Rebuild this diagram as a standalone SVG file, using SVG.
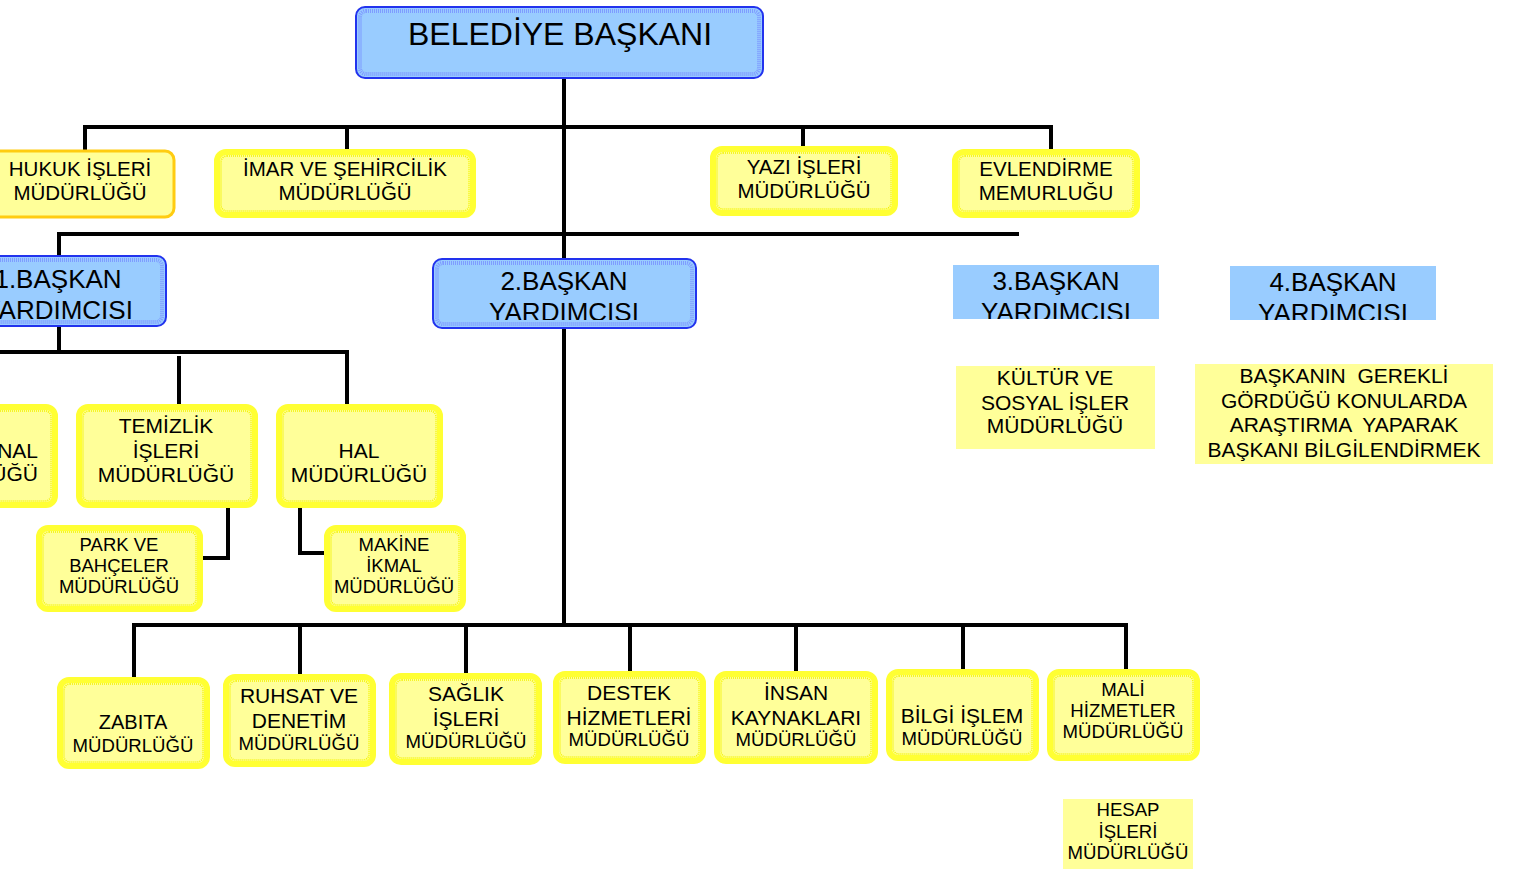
<svg xmlns="http://www.w3.org/2000/svg" width="1518" height="869" viewBox="0 0 1518 869">
<style>
.yb{fill:#ffff99;stroke:#ffff33;stroke-width:6}
.yi{fill:none;stroke:#f2f200;stroke-width:1.5;stroke-dasharray:1 1}
.ho{fill:#ffff99;stroke:#ffcc11;stroke-width:3}
.bb{fill:#99ccff;stroke:#2233ee;stroke-width:2}
.bi{fill:none;stroke:#7f9cff;stroke-width:4;stroke-dasharray:1 1}
.pb{fill:#99ccff}
.py{fill:#ffff99}
.t{font-family:"Liberation Sans",Arial,sans-serif;fill:#000;text-anchor:middle;white-space:pre}
.ln{fill:none;stroke:#000;stroke-width:4}
</style>
<defs>
<clipPath id="c1"><rect x="-60" y="258" width="224" height="62"/></clipPath>
<clipPath id="c2"><rect x="435" y="261" width="259" height="59"/></clipPath>
<clipPath id="c3"><rect x="953" y="265" width="206" height="54"/></clipPath>
<clipPath id="c4"><rect x="1230" y="266" width="206" height="54"/></clipPath>
</defs>
<rect width="1518" height="869" fill="#fff"/>
<g id="connectors">
<path class="ln" d="M564,78 V626"/>
<path class="ln" d="M85,150 V127 H1051 V151"/>
<path class="ln" d="M347,127 V150"/>
<path class="ln" d="M803,127 V148"/>
<path class="ln" d="M59,256 V234 H1019"/>
<path class="ln" d="M59,326 V352"/>
<path class="ln" d="M0,352 H347 V405"/>
<path class="ln" d="M179,356 V405"/>
<path class="ln" d="M228,507 V558 H202"/>
<path class="ln" d="M300,507 V553 H325"/>
<path class="ln" d="M134,678 V625 H1126 V670"/>
<path class="ln" d="M300,625 V675"/>
<path class="ln" d="M466,625 V674"/>
<path class="ln" d="M630,625 V672"/>
<path class="ln" d="M796,625 V672"/>
<path class="ln" d="M963,625 V670"/>
</g>
<g id="baskan">
<rect class="bb" x="356" y="7" width="407" height="71" rx="9"/>
<rect class="bi" x="360" y="11" width="399" height="63" rx="6"/>
<text class="t" x="560" y="45" font-size="32">BELEDİYE BAŞKANI</text>
</g>
<g id="hukuk">
<rect class="ho" x="-14" y="151" width="188" height="66" rx="9"/>
<text class="t" x="80" y="176" font-size="20.5">HUKUK İŞLERİ</text>
<text class="t" x="80" y="200" font-size="20.5">MÜDÜRLÜĞÜ</text>
</g>
<g id="imar">
<rect class="yb" x="217" y="152" width="256" height="63" rx="9"/>
<rect class="yi" x="221" y="156" width="248" height="55" rx="6"/>
<text class="t" x="345" y="176" font-size="20.5">İMAR VE ŞEHİRCİLİK</text>
<text class="t" x="345" y="200" font-size="20.5">MÜDÜRLÜĞÜ</text>
</g>
<g id="yazi">
<rect class="yb" x="713" y="149" width="182" height="64" rx="9"/>
<rect class="yi" x="717" y="153" width="174" height="56" rx="6"/>
<text class="t" x="804" y="174" font-size="20.5">YAZI İŞLERİ</text>
<text class="t" x="804" y="198" font-size="20.5">MÜDÜRLÜĞÜ</text>
</g>
<g id="evlendirme">
<rect class="yb" x="955" y="152" width="182" height="63" rx="9"/>
<rect class="yi" x="959" y="156" width="174" height="55" rx="6"/>
<text class="t" x="1046" y="176" font-size="20.5">EVLENDİRME</text>
<text class="t" x="1046" y="200" font-size="20.5">MEMURLUĞU</text>
</g>
<g id="yardimci1">
<rect class="bb" x="-60" y="256" width="226" height="70" rx="9"/>
<rect class="bi" x="-56" y="260" width="218" height="62" rx="6"/>
<g clip-path="url(#c1)">
<text class="t" x="58" y="288" font-size="26">1.BAŞKAN</text>
<text class="t" x="58" y="319" font-size="26">YARDIMCISI</text>
</g>
</g>
<g id="yardimci2">
<rect class="bb" x="433" y="259" width="263" height="69" rx="9"/>
<rect class="bi" x="437" y="263" width="255" height="61" rx="6"/>
<g clip-path="url(#c2)">
<text class="t" x="564" y="290" font-size="26">2.BAŞKAN</text>
<text class="t" x="564" y="321" font-size="26">YARDIMCISI</text>
</g>
</g>
<g id="yardimci3">
<rect class="pb" x="953" y="265" width="206" height="54"/>
<g clip-path="url(#c3)">
<text class="t" x="1056" y="290" font-size="26">3.BAŞKAN</text>
<text class="t" x="1056" y="321" font-size="26">YARDIMCISI</text>
</g>
</g>
<g id="yardimci4">
<rect class="pb" x="1230" y="266" width="206" height="54"/>
<g clip-path="url(#c4)">
<text class="t" x="1333" y="291" font-size="26">4.BAŞKAN</text>
<text class="t" x="1333" y="322" font-size="26">YARDIMCISI</text>
</g>
</g>
<g id="kultur">
<rect class="py" x="956" y="366" width="199" height="83"/>
<text class="t" x="1055" y="385" font-size="21">KÜLTÜR VE</text>
<text class="t" x="1055" y="410" font-size="21">SOSYAL İŞLER</text>
<text class="t" x="1055" y="433" font-size="21">MÜDÜRLÜĞÜ</text>
</g>
<g id="arastirma">
<rect class="py" x="1195" y="364" width="298" height="100"/>
<text class="t" x="1344" y="383" font-size="21">BAŞKANIN  GEREKLİ</text>
<text class="t" x="1344" y="408" font-size="21">GÖRDÜĞÜ KONULARDA</text>
<text class="t" x="1344" y="432" font-size="21">ARAŞTIRMA  YAPARAK</text>
<text class="t" x="1344" y="457" font-size="21">BAŞKANI BİLGİLENDİRMEK</text>
</g>
<g id="nal">
<rect class="yb" x="-60" y="407" width="115" height="98" rx="9"/>
<rect class="yi" x="-56" y="411" width="107" height="90" rx="6"/>
<text class="t" x="38" y="458" font-size="21" text-anchor="end" style="text-anchor:end">NAL</text>
<text class="t" x="38" y="481" font-size="21" style="text-anchor:end">MÜDÜRLÜĞÜ</text>
</g>
<g id="temizlik">
<rect class="yb" x="79" y="407" width="176" height="98" rx="9"/>
<rect class="yi" x="83" y="411" width="168" height="90" rx="6"/>
<text class="t" x="166" y="433" font-size="21">TEMİZLİK</text>
<text class="t" x="166" y="458" font-size="21">İŞLERİ</text>
<text class="t" x="166" y="482" font-size="21">MÜDÜRLÜĞÜ</text>
</g>
<g id="hal">
<rect class="yb" x="279" y="407" width="161" height="98" rx="9"/>
<rect class="yi" x="283" y="411" width="153" height="90" rx="6"/>
<text class="t" x="359" y="458" font-size="21">HAL</text>
<text class="t" x="359" y="482" font-size="21">MÜDÜRLÜĞÜ</text>
</g>
<g id="park">
<rect class="yb" x="39" y="528" width="161" height="81" rx="9"/>
<rect class="yi" x="43" y="532" width="153" height="73" rx="6"/>
<text class="t" x="119" y="551" font-size="18.5">PARK VE</text>
<text class="t" x="119" y="572" font-size="18.5">BAHÇELER</text>
<text class="t" x="119" y="593" font-size="18.5">MÜDÜRLÜĞÜ</text>
</g>
<g id="makine">
<rect class="yb" x="327" y="528" width="136" height="81" rx="9"/>
<rect class="yi" x="331" y="532" width="128" height="73" rx="6"/>
<text class="t" x="394" y="551" font-size="18.5">MAKİNE</text>
<text class="t" x="394" y="572" font-size="18.5">İKMAL</text>
<text class="t" x="394" y="593" font-size="18.5">MÜDÜRLÜĞÜ</text>
</g>
<g id="zabita">
<rect class="yb" x="60" y="680" width="147" height="86" rx="9"/>
<rect class="yi" x="64" y="684" width="139" height="78" rx="6"/>
<text class="t" x="133" y="729" font-size="20">ZABITA</text>
<text class="t" x="133" y="752" font-size="18.6">MÜDÜRLÜĞÜ</text>
</g>
<g id="ruhsat">
<rect class="yb" x="226" y="677" width="147" height="87" rx="9"/>
<rect class="yi" x="230" y="681" width="139" height="79" rx="6"/>
<text class="t" x="299" y="703" font-size="21">RUHSAT VE</text>
<text class="t" x="299" y="728" font-size="21">DENETİM</text>
<text class="t" x="299" y="750" font-size="18.6">MÜDÜRLÜĞÜ</text>
</g>
<g id="saglik">
<rect class="yb" x="392" y="676" width="147" height="86" rx="9"/>
<rect class="yi" x="396" y="680" width="139" height="78" rx="6"/>
<text class="t" x="466" y="701" font-size="21">SAĞLIK</text>
<text class="t" x="466" y="726" font-size="21">İŞLERİ</text>
<text class="t" x="466" y="748" font-size="18.6">MÜDÜRLÜĞÜ</text>
</g>
<g id="destek">
<rect class="yb" x="556" y="674" width="147" height="87" rx="9"/>
<rect class="yi" x="560" y="678" width="139" height="79" rx="6"/>
<text class="t" x="629" y="700" font-size="21">DESTEK</text>
<text class="t" x="629" y="725" font-size="21">HİZMETLERİ</text>
<text class="t" x="629" y="746" font-size="18.6">MÜDÜRLÜĞÜ</text>
</g>
<g id="insan">
<rect class="yb" x="717" y="674" width="158" height="87" rx="9"/>
<rect class="yi" x="721" y="678" width="150" height="79" rx="6"/>
<text class="t" x="796" y="700" font-size="21">İNSAN</text>
<text class="t" x="796" y="725" font-size="21">KAYNAKLARI</text>
<text class="t" x="796" y="746" font-size="18.6">MÜDÜRLÜĞÜ</text>
</g>
<g id="bilgi">
<rect class="yb" x="889" y="672" width="147" height="86" rx="9"/>
<rect class="yi" x="893" y="676" width="139" height="78" rx="6"/>
<text class="t" x="962" y="723" font-size="21">BİLGİ İŞLEM</text>
<text class="t" x="962" y="745" font-size="18.6">MÜDÜRLÜĞÜ</text>
</g>
<g id="mali">
<rect class="yb" x="1050" y="672" width="147" height="86" rx="9"/>
<rect class="yi" x="1054" y="676" width="139" height="78" rx="6"/>
<text class="t" x="1123" y="696" font-size="18.6">MALİ</text>
<text class="t" x="1123" y="717" font-size="18.6">HİZMETLER</text>
<text class="t" x="1123" y="738" font-size="18.6">MÜDÜRLÜĞÜ</text>
</g>
<g id="hesap">
<rect class="py" x="1063" y="799" width="130" height="70"/>
<text class="t" x="1128" y="816" font-size="18.6">HESAP</text>
<text class="t" x="1128" y="838" font-size="18.6">İŞLERİ</text>
<text class="t" x="1128" y="859" font-size="18.6">MÜDÜRLÜĞÜ</text>
</g>
</svg>
